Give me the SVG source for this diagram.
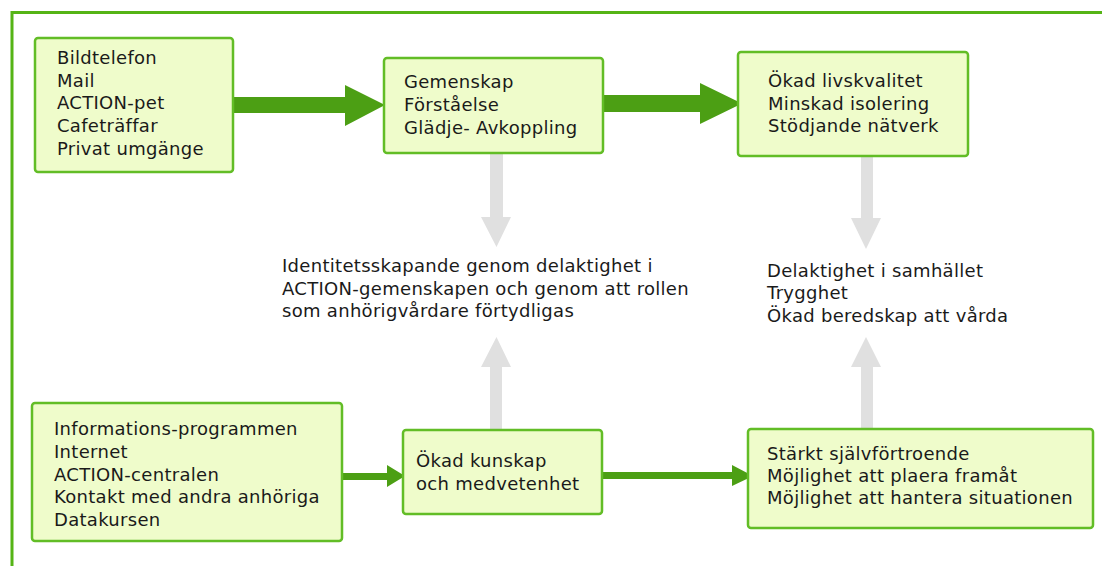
<svg xmlns="http://www.w3.org/2000/svg" width="1102" height="566" viewBox="0 0 1102 566">
<style>
.box{fill:#effccb;stroke:#62bd26;stroke-width:2.5}
.t{font-family:"DejaVu Sans",Verdana,sans-serif;font-size:18px;letter-spacing:0.3px;fill:#1a1a1a}
.g{fill:#4c9f14}
.gr{fill:#e0e0e0}
</style>
<rect x="0" y="0" width="1102" height="566" fill="#ffffff"/>
<path d="M12 566 V12.5 H1102" fill="none" stroke="#55b416" stroke-width="3"/>
<g id="connectors">
<polygon class="g" points="233,97 345,97 345,85 385,105 345,126 345,113 233,113"/>
<polygon class="g" points="603,95 700,95 700,83 742,103.5 700,124 700,112 603,112"/>
<polygon class="g" points="342,473 387,473 387,465 405,476 387,487 387,480 342,480"/>
<polygon class="g" points="602,472 732,472 732,465 753,476 732,486 732,479 602,479"/>
<polygon class="gr" points="490,153 503,153 503,217 511,217 496.5,247 481,217 490,217"/>
<polygon class="gr" points="490,430 502,430 502,367 511,367 496.5,337 481,367 490,367"/>
<polygon class="gr" points="861,156 873,156 873,218 881,218 866,249 851,218 861,218"/>
<polygon class="gr" points="861,429 873,429 873,367 881,367 866,337 851,367 861,367"/>
</g>
<g id="box1">
<rect class="box" x="35" y="38" width="198" height="134" rx="3"/>
<text class="t" x="57" y="64">Bildtelefon</text>
<text class="t" x="57" y="87">Mail</text>
<text class="t" x="57" y="109">ACTION-pet</text>
<text class="t" x="57" y="132">Cafeträffar</text>
<text class="t" x="57" y="155">Privat umgänge</text>
</g>
<g id="box2">
<rect class="box" x="384" y="58" width="219" height="95" rx="3"/>
<text class="t" x="404" y="88">Gemenskap</text>
<text class="t" x="404" y="111">Förståelse</text>
<text class="t" x="404" y="134">Glädje- Avkoppling</text>
</g>
<g id="box3">
<rect class="box" x="738" y="52" width="230" height="104" rx="3"/>
<text class="t" x="768" y="87">Ökad livskvalitet</text>
<text class="t" x="768" y="110">Minskad isolering</text>
<text class="t" x="768" y="132">Stödjande nätverk</text>
</g>
<g id="identity">
<text class="t" x="282" y="272">Identitetsskapande genom delaktighet i</text>
<text class="t" x="282" y="295">ACTION-gemenskapen och genom att rollen</text>
<text class="t" x="282" y="317">som anhörigvårdare förtydligas</text>
</g>
<g id="society">
<text class="t" x="767" y="277">Delaktighet i samhället</text>
<text class="t" x="767" y="299">Trygghet</text>
<text class="t" x="767" y="322">Ökad beredskap att vårda</text>
</g>
<g id="box5">
<rect class="box" x="32" y="403" width="310" height="138" rx="3"/>
<text class="t" x="54" y="435">Informations-programmen</text>
<text class="t" x="54" y="458">Internet</text>
<text class="t" x="54" y="481">ACTION-centralen</text>
<text class="t" x="54" y="503">Kontakt med andra anhöriga</text>
<text class="t" x="54" y="526">Datakursen</text>
</g>
<g id="box6">
<rect class="box" x="403" y="430" width="199" height="84" rx="3"/>
<text class="t" x="416" y="467">Ökad kunskap</text>
<text class="t" x="416" y="490">och medvetenhet</text>
</g>
<g id="box7">
<rect class="box" x="748" y="429" width="345" height="99" rx="3"/>
<text class="t" x="767" y="460">Stärkt självförtroende</text>
<text class="t" x="767" y="482">Möjlighet att plaera framåt</text>
<text class="t" x="767" y="504">Möjlighet att hantera situationen</text>
</g>
</svg>
